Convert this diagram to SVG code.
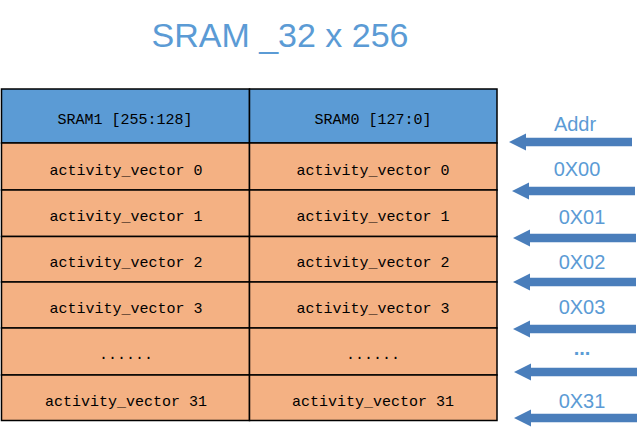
<svg xmlns="http://www.w3.org/2000/svg" width="643" height="434" viewBox="0 0 643 434">
<style>
.title{font-family:"Liberation Sans",Arial,sans-serif;font-size:34px;fill:#5B9BD5;text-anchor:middle}
.hdr{fill:#5B9BD5;stroke:#000;stroke-width:1.5}
.row{fill:#F4B183;stroke:#000;stroke-width:1.5}
.cell{font-family:"Liberation Mono","DejaVu Sans Mono",monospace;font-size:15px;fill:#000;text-anchor:middle}
.lbl{font-family:"Liberation Sans",Arial,sans-serif;font-size:20px;fill:#5B9BD5;text-anchor:middle}
.arr{fill:#4A7EBB}
</style>
<defs>
<path id="arrow" d="M0 0 L17 -8.5 L17 -4.2 L123 -4.2 L123 4.2 L17 4.2 L17 8.5 Z"/>
</defs>
<text class="title" x="280" y="47">SRAM _32 x 256</text>
<g id="table">
<g id="header">
<rect class="hdr" x="1.5" y="89" width="248" height="54"/>
<rect class="hdr" x="249.5" y="89" width="247.5" height="54"/>
<text class="cell" x="125" y="124">SRAM1 [255:128]</text>
<text class="cell" x="373" y="124">SRAM0 [127:0]</text>
</g>
<g id="row0">
<rect class="row" x="1.5" y="143" width="248" height="47"/>
<rect class="row" x="249.5" y="143" width="247.5" height="47"/>
<text class="cell" x="126" y="175">activity_vector 0</text>
<text class="cell" x="373" y="175">activity_vector 0</text>
</g>
<g id="row1">
<rect class="row" x="1.5" y="190" width="248" height="46.5"/>
<rect class="row" x="249.5" y="190" width="247.5" height="46.5"/>
<text class="cell" x="126" y="221">activity_vector 1</text>
<text class="cell" x="373" y="221">activity_vector 1</text>
</g>
<g id="row2">
<rect class="row" x="1.5" y="236.5" width="248" height="45.5"/>
<rect class="row" x="249.5" y="236.5" width="247.5" height="45.5"/>
<text class="cell" x="126" y="267">activity_vector 2</text>
<text class="cell" x="373" y="267">activity_vector 2</text>
</g>
<g id="row3">
<rect class="row" x="1.5" y="282" width="248" height="46"/>
<rect class="row" x="249.5" y="282" width="247.5" height="46"/>
<text class="cell" x="126" y="313">activity_vector 3</text>
<text class="cell" x="373" y="313">activity_vector 3</text>
</g>
<g id="row4">
<rect class="row" x="1.5" y="328" width="248" height="47"/>
<rect class="row" x="249.5" y="328" width="247.5" height="47"/>
<text class="cell" x="126" y="359">......</text>
<text class="cell" x="373" y="359">......</text>
</g>
<g id="row31">
<rect class="row" x="1.5" y="375" width="248" height="45.5"/>
<rect class="row" x="249.5" y="375" width="247.5" height="45.5"/>
<text class="cell" x="126" y="406">activity_vector 31</text>
<text class="cell" x="373" y="406">activity_vector 31</text>
</g>
</g>
<g id="labels">
<text class="lbl" x="575" y="131">Addr</text>
<text class="lbl" x="577" y="176">0X00</text>
<text class="lbl" x="582" y="224">0X01</text>
<text class="lbl" x="582" y="269">0X02</text>
<text class="lbl" x="582" y="314">0X03</text>
<text class="lbl" x="582" y="355" font-weight="bold">...</text>
<text class="lbl" x="582" y="408">0X31</text>
</g>
<g id="connectors">
<use href="#arrow" class="arr" x="509" y="142"/>
<use href="#arrow" class="arr" x="512" y="191"/>
<use href="#arrow" class="arr" x="513" y="238"/>
<use href="#arrow" class="arr" x="513" y="282"/>
<use href="#arrow" class="arr" x="513" y="329"/>
<use href="#arrow" class="arr" x="514" y="372"/>
<use href="#arrow" class="arr" x="514" y="418"/>
</g>
</svg>
